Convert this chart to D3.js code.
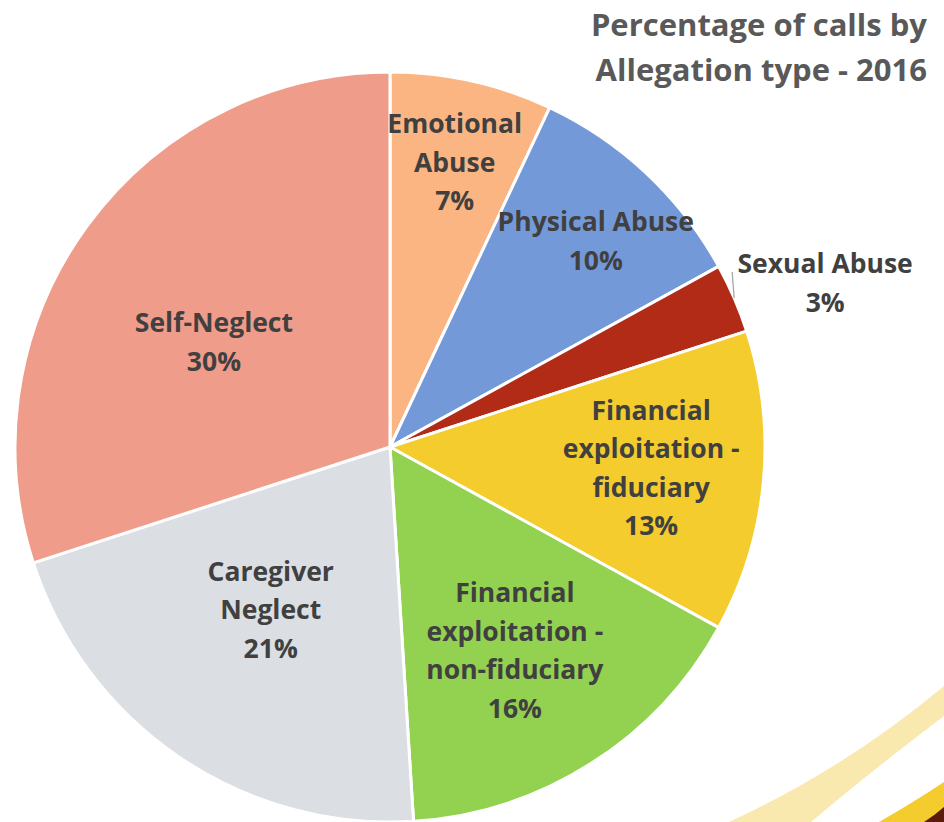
<!DOCTYPE html>
<html><head><meta charset="utf-8">
<script src="https://cdn.jsdelivr.net/npm/d3@7"></script>
<style>html,body{margin:0;padding:0;background:#fff;overflow:hidden}</style>
</head><body>
<svg id="c" width="944" height="822"></svg>
<script>
const categories = ["Emotional Abuse","Physical Abuse","Sexual Abuse","Financial exploitation - fiduciary","Financial exploitation - non-fiduciary","Caregiver Neglect","Self-Neglect"];
const values = [7, 10, 3, 13, 16, 21, 30];
const labelLines = [["Emotional","Abuse"],["Physical Abuse"],["Sexual Abuse"],["Financial","exploitation -","fiduciary"],["Financial","exploitation -","non-fiduciary"],["Caregiver","Neglect"],["Self-Neglect"]];
const colors = ["#FBB582","#7499D8","#B22B17","#F4CC2E","#93D150","#DBDEE3","#F09C8B"];
const title = ["Percentage of calls by","Allegation type - 2016"];

const svg = d3.select("#c");
const W = 944, H = 822;
const cx = 390, cy = 447, R = 375;

// decorative swooshes (bottom right)
svg.append("path").attr("fill","#FAE9AE")
  .attr("d","M944,686 Q846,768 729,822 L811,822 Q870,772 944,716 Z");
svg.append("path").attr("fill","#F4CC2E")
  .attr("d","M879,822 Q914,802 944,782 L944,822 Z");
svg.append("path").attr("fill","#5C1A0B")
  .attr("d","M924,822 Q935,815 944,807 L944,822 Z");

const g = svg.append("g").attr("transform",`translate(${cx},${cy})`);
const pie = d3.pie().sort(null).value(d=>d)(values);
const arc = d3.arc().innerRadius(0).outerRadius(R);

g.selectAll("path.s").data(pie).join("path").attr("class","s")
  .attr("d",arc).attr("fill",(d,i)=>colors[i])
  .attr("stroke","#fff").attr("stroke-width",3).attr("stroke-linejoin","round");

// label placement (angle adjust deg, radius)
const lab = [
  {da:0.2, r:292},
  {da:1.8, r:291},
  null,
  {da:-0.8, r:262},
  {da:0.9, r:239},
  {da:2.0, r:202},
  {da:-5.2, r:205}
];
const fs = 26.5, lh = 38.5;
const font = "'Open Sans', Lato, sans-serif";
pie.forEach((d,i)=>{
  const lines = labelLines[i].concat([values[i]+"%"]);
  let x, y;
  if (lab[i]) {
    const a = (d.startAngle + d.endAngle)/2 + lab[i].da*Math.PI/180;
    x = Math.sin(a)*lab[i].r; y = -Math.cos(a)*lab[i].r;
  } else {
    const a = (d.startAngle + d.endAngle)/2;
    const ex = Math.sin(a)*R, ey = -Math.cos(a)*R;
    g.append("line").attr("x1",ex).attr("y1",ey).attr("x2",ex-2).attr("y2",ey-26)
      .attr("stroke","#A6A6A6").attr("stroke-width",1.3);
    x = ex + 91; y = ey - 15;
  }
  const t = g.append("text").attr("text-anchor","middle")
    .attr("font-family",font).attr("font-weight","bold")
    .attr("font-size",fs).attr("fill","#404040");
  const y0 = y - (lines.length-1)*lh/2;
  lines.forEach((s,k)=>{
    t.append("tspan").attr("x",x).attr("y",y0+k*lh).attr("dy","0.35em").text(s);
  });
});

const tt = svg.append("text").attr("text-anchor","end")
  .attr("font-family",font).attr("font-weight","bold")
  .attr("font-size",31).attr("fill","#595959");
title.forEach((s,k)=>tt.append("tspan").attr("x",927).attr("y",25+k*45).attr("dy","0.35em").text(s));
</script>
</body></html>
